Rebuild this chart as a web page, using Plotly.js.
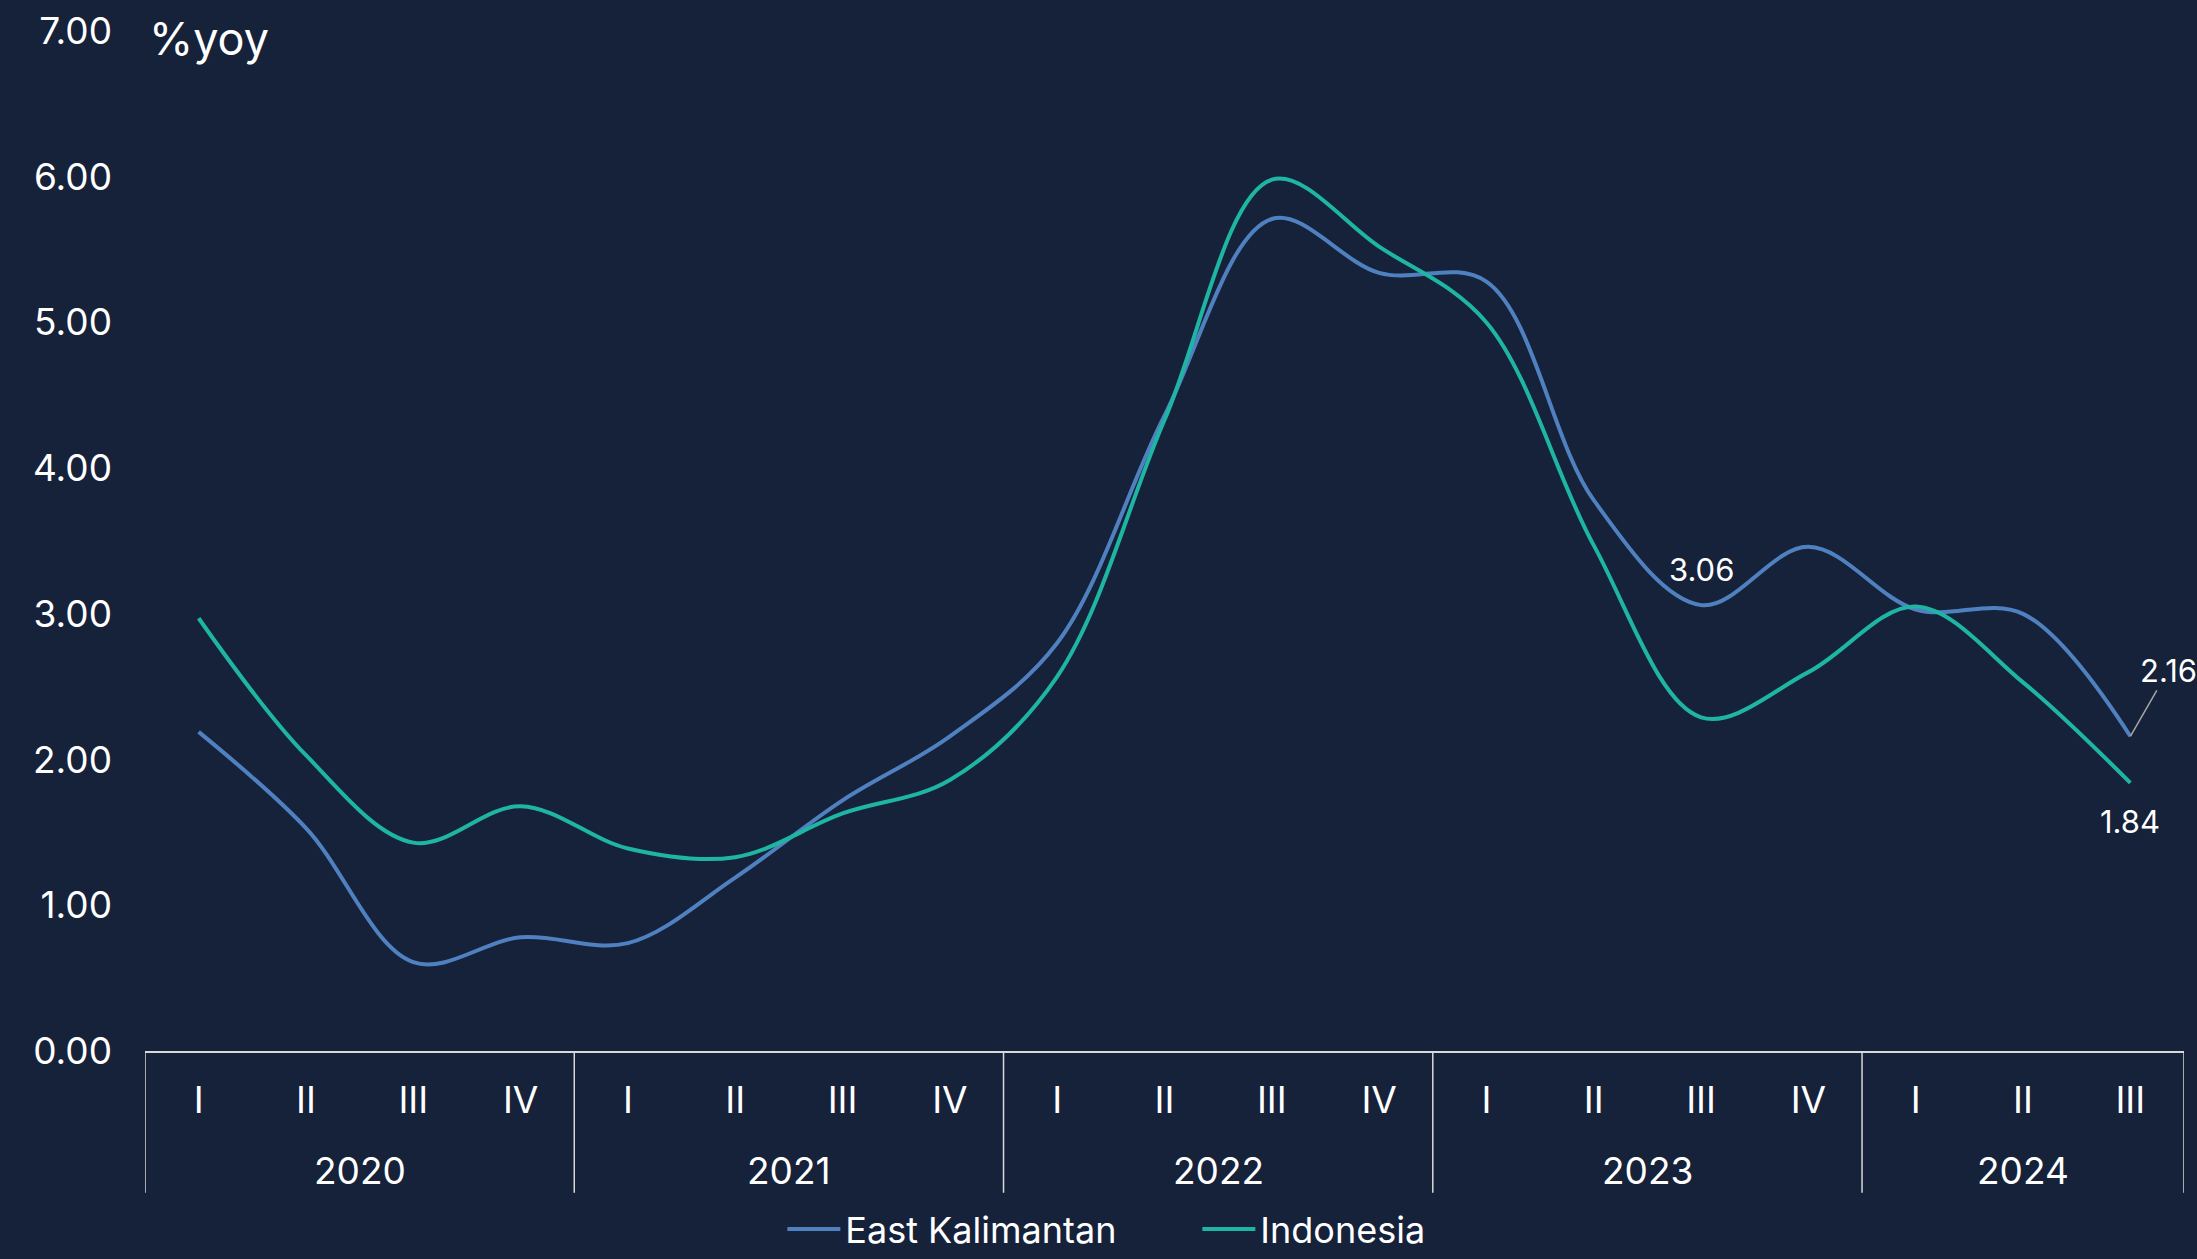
<!DOCTYPE html>
<html>
<head>
<meta charset="utf-8">
<script src="https://cdn.plot.ly/plotly-3.0.1.min.js"></script>
<style>
  html, body { margin: 0; padding: 0; background: #16213a; }
  #chart { width: 2197px; height: 1259px; }
</style>
</head>
<body>
<div id="chart"></div>
<script>
// ---- data ----
const quarters = ["I","II","III","IV","I","II","III","IV","I","II","III","IV","I","II","III","IV","I","II","III"];
const years = ["2020","2021","2022","2023","2024"];
const yearQuarterCount = [4, 4, 4, 4, 3];
const eastKalimantan = [2.19, 1.53, 0.61, 0.78, 0.74, 1.19, 1.72, 2.16, 2.80, 4.36, 5.71, 5.34, 5.28, 3.78, 3.06, 3.46, 3.03, 3.00, 2.16];
const indonesia      = [2.97, 2.03, 1.43, 1.68, 1.39, 1.33, 1.63, 1.86, 2.57, 4.33, 5.98, 5.52, 5.00, 3.47, 2.29, 2.60, 3.05, 2.53, 1.84];
const yTicks = [0, 1, 2, 3, 4, 5, 6, 7];

// ---- build ----
const idx = quarters.map((q, i) => i);
const FONT = "Inter, 'Open Sans', sans-serif";
const WHITE = "#ffffff";
const AXIS = "#d9d9d9";
const BLUE = "#4f81c0";
const TEAL = "#1fb5a3";
const FS = 37;

const traces = [
  { x: idx, y: eastKalimantan, name: "East Kalimantan", type: "scatter", mode: "lines",
    line: { color: BLUE, width: 4, shape: "spline", smoothing: 1 }, hoverinfo: "y" },
  { x: idx, y: indonesia, name: "Indonesia", type: "scatter", mode: "lines",
    line: { color: TEAL, width: 4, shape: "spline", smoothing: 1 }, hoverinfo: "y" }
];

// year group boundaries and centers
const bounds = [-0.5];
const centers = [];
let start = 0;
yearQuarterCount.forEach(n => {
  centers.push(start + (n - 1) / 2);
  start += n;
  bounds.push(start - 0.5);
});

const shapes = bounds.map(b => ({
  type: "line", xref: "x", yref: "paper", x0: b, x1: b, y0: 0, y1: -0.139,
  line: { color: AXIS, width: 1.5 }, layer: "above"
}));

const annotations = years.map((yr, i) => ({
  xref: "x", yref: "paper", x: centers[i], y: -0.1176, yanchor: "middle", xanchor: "center",
  text: yr, showarrow: false, font: { family: FONT, size: FS, color: WHITE }
}));

annotations.push({
  xref: "paper", yref: "paper", x: 0.001, y: 0.993, xanchor: "left", yanchor: "middle",
  text: "%yoy", showarrow: false, font: { family: FONT, size: 45, color: WHITE }
});

const lastI = eastKalimantan.length - 1;
annotations.push({
  xref: "x", yref: "y", x: 14, y: eastKalimantan[14], text: eastKalimantan[14].toFixed(2),
  showarrow: false, yshift: 36, xanchor: "center", yanchor: "middle",
  font: { family: FONT, size: 31, color: WHITE }
});
annotations.push({
  xref: "x", yref: "y", x: lastI, y: eastKalimantan[lastI], text: eastKalimantan[lastI].toFixed(2),
  showarrow: true, arrowhead: 0, arrowwidth: 1.5, arrowcolor: "#a6a6a6", ax: 38, ay: -66,
  font: { family: FONT, size: 31, color: WHITE }
});
annotations.push({
  xref: "x", yref: "y", x: lastI, y: indonesia[lastI], text: indonesia[lastI].toFixed(2),
  showarrow: false, yshift: -39, xanchor: "center", yanchor: "middle",
  font: { family: FONT, size: 31, color: WHITE }
});

const layout = {
  width: 2197, height: 1259,
  paper_bgcolor: "#16213a", plot_bgcolor: "#16213a",
  margin: { l: 144.5, r: 13, t: 31, b: 208, pad: 0, autoexpand: false },
  font: { family: FONT, color: WHITE, size: FS },
  showlegend: true,
  legend: {
    orientation: "h", xref: "container", yref: "container", x: 0.3561, y: 0,
    xanchor: "left", yanchor: "bottom", font: { family: FONT, size: 36, color: WHITE },
    bgcolor: "rgba(0,0,0,0)", itemwidth: 53, tracegroupgap: 0,
    entrywidth: 347, entrywidthmode: "pixels"
  },
  xaxis: {
    type: "linear", range: [-0.5, 18.5], tickvals: idx, ticktext: quarters,
    showgrid: false, zeroline: false, showline: true, linecolor: AXIS, linewidth: 1.5,
    ticks: "", ticklabelstandoff: 16, tickfont: { family: FONT, size: FS, color: WHITE },
    fixedrange: true, automargin: false
  },
  yaxis: {
    range: [0, 7], tickvals: yTicks, tickformat: ".2f",
    showgrid: false, zeroline: false, showline: false, ticks: "",
    ticklabelstandoff: 32, tickfont: { family: FONT, size: FS, color: WHITE },
    fixedrange: true, automargin: false
  },
  shapes: shapes,
  annotations: annotations
};

Plotly.newPlot("chart", traces, layout, { displayModeBar: false, staticPlot: true });
</script>
</body>
</html>
